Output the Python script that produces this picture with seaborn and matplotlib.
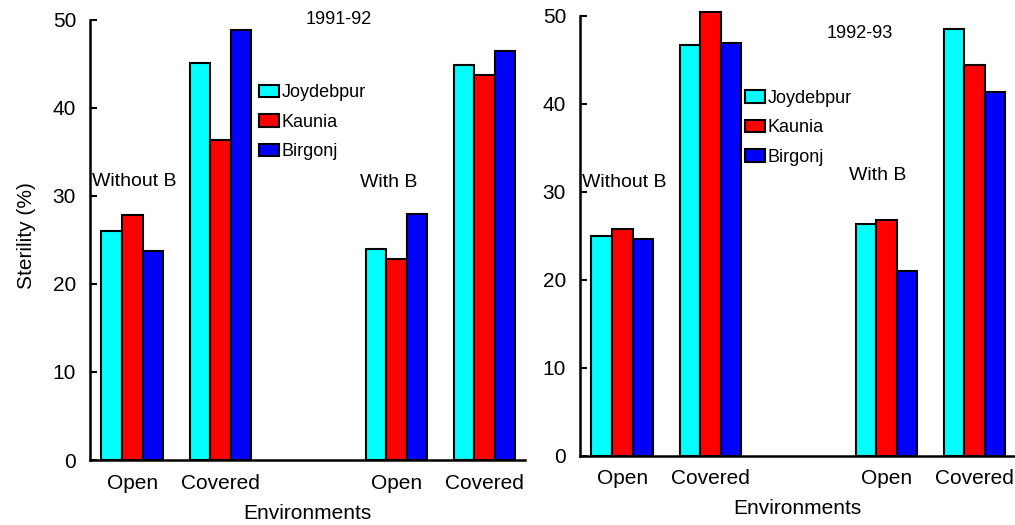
import pandas as pd
import matplotlib
matplotlib.use("Agg")
import matplotlib.pyplot as plt
import seaborn as sns

sns.set_theme(style="white")
plt.rcParams['font.family'] = ['Liberation Sans', 'DejaVu Sans']
plt.rcParams['text.color'] = 'black'
plt.rcParams['axes.labelcolor'] = 'black'
plt.rcParams['xtick.color'] = 'black'
plt.rcParams['ytick.color'] = 'black'

# bar groups: Open / Covered without boron, Open / Covered with boron
positions = [0, 1, 3, 4]
tick_labels = ["Open", "Covered", "Open", "Covered"]
locations = ["Joydebpur", "Kaunia", "Birgonj"]
colors = ["#00FFFF", "#FF0000", "#0000FF"]

# 1991-92
joy_9192 = [26.0, 45.1, 24.0, 44.9]
kau_9192 = [27.8, 36.4, 22.8, 43.7]
bir_9192 = [23.7, 48.8, 27.9, 46.5]
# 1992-93
joy_9293 = [25.0, 46.7, 26.3, 48.5]
kau_9293 = [25.7, 50.4, 26.8, 44.4]
bir_9293 = [24.6, 46.9, 21.0, 41.3]


def long_df(joy, kau, bir):
    rows = []
    for loc, vals in zip(locations, [joy, kau, bir]):
        for p, v in zip(positions, vals):
            rows.append({"pos": p, "loc": loc, "val": v})
    return pd.DataFrame(rows)


fig = plt.figure(figsize=(10.15, 5.25), dpi=100)
ax1 = fig.add_axes([90 / 1015, 65 / 525, 435 / 1015, 449 / 525])
ax2 = fig.add_axes([580 / 1015, 69.5 / 525, 435 / 1015, 448.5 / 525])

panels = [
    (ax1, long_df(joy_9192, kau_9192, bir_9192), "1991-92", (2.34, 50.0), (-0.46, 31.6), (2.91, 31.5), (0.389, 0.837)),
    (ax2, long_df(joy_9293, kau_9293, bir_9293), "1992-93", (2.7, 48.0), (-0.46, 31.1), (2.9, 31.8), (0.379, 0.816)),
]

for ax, df, year, ypos, wo_pos, w_pos, leg_pos in panels:
    sns.barplot(data=df, x="pos", y="val", hue="loc", hue_order=locations,
                palette=colors, native_scale=True, width=0.7, ax=ax,
                edgecolor="black", linewidth=1.5, saturation=1)
    ax.set_xlim(-0.48, 4.46)
    ax.set_ylim(0, 51)
    ax.set_xticks(positions)
    ax.set_xticklabels(tick_labels, fontsize=15)
    ax.set_yticks([0, 10, 20, 30, 40, 50])
    ax.set_yticklabels(["0", "10", "20", "30", "40", "50"], fontsize=15)
    ax.tick_params(axis="y", direction="in", length=5, width=1.5, pad=10, left=True)
    ax.tick_params(axis="x", length=0, pad=10)
    for s in ["top", "right"]:
        ax.spines[s].set_visible(False)
    for s in ["left", "bottom"]:
        ax.spines[s].set_color("black")
        ax.spines[s].set_linewidth(1.8)
    ax.spines["left"].set_bounds(0, 50)
    ax.set_xlabel("Environments", fontsize=15, labelpad=8)
    ax.set_ylabel("")
    ax.text(ypos[0], ypos[1], year, fontsize=13, ha="center", va="center")
    ax.text(wo_pos[0], wo_pos[1], "Without B", fontsize=14, ha="left", va="center")
    ax.text(w_pos[0], w_pos[1], "With B", fontsize=14, ha="center", va="center")
    ax.legend(loc="upper left", bbox_to_anchor=leg_pos, frameon=False, fontsize=13,
              handlelength=1.1, handleheight=0.7, handletextpad=0.15,
              labelspacing=0.7, borderpad=0, borderaxespad=0)

ax1.set_ylabel("Sterility (%)", fontsize=15, labelpad=12)

fig.savefig("out.png", dpi=100)
